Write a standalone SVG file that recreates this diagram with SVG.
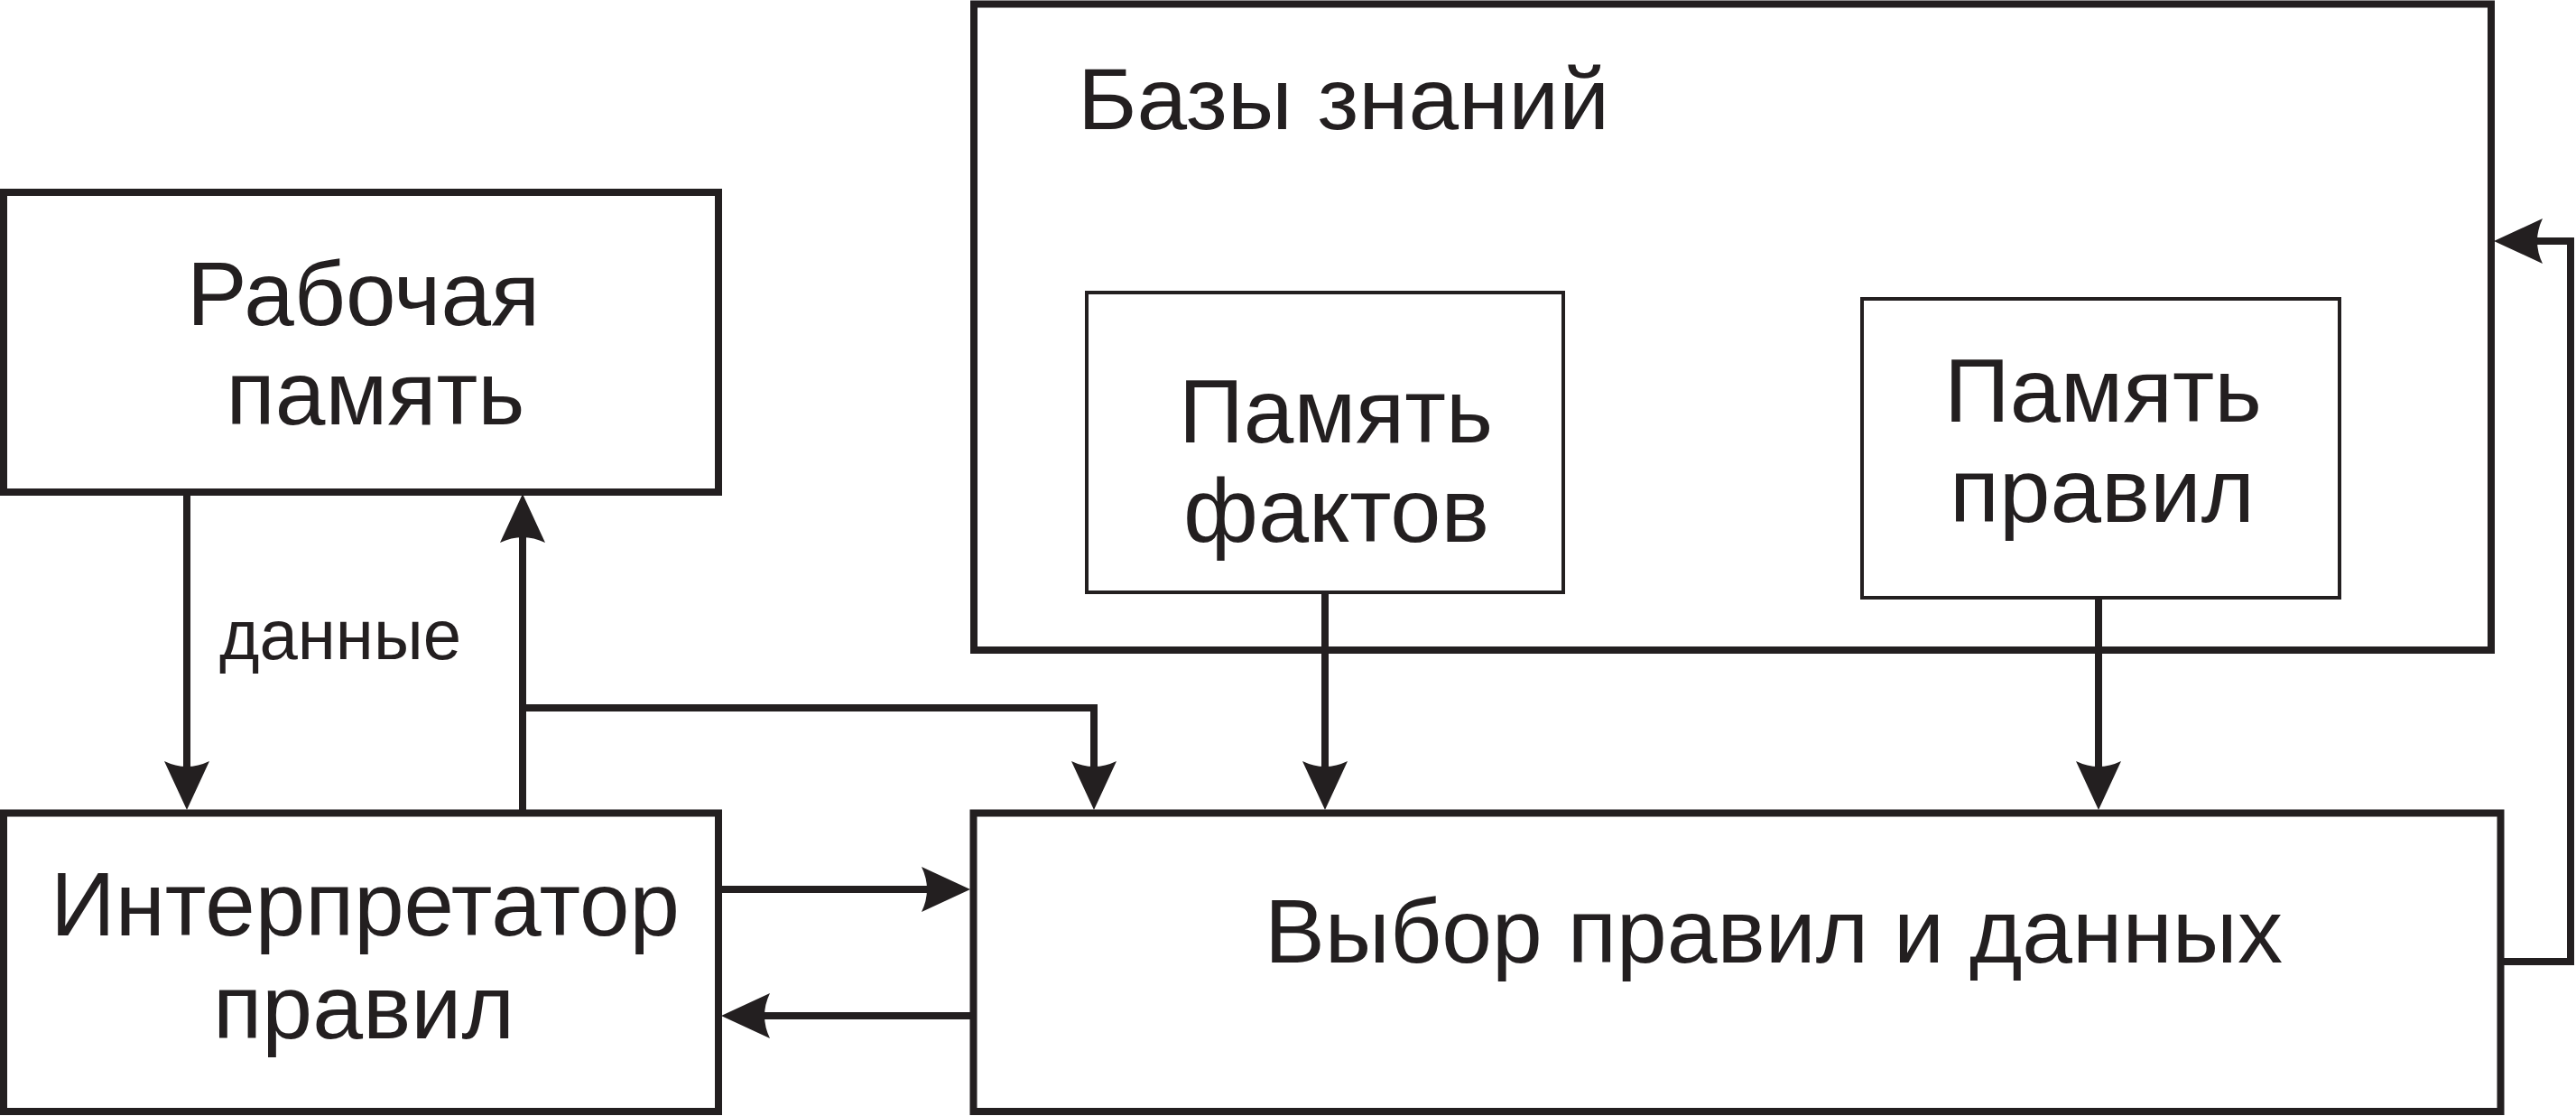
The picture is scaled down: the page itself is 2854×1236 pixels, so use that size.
<svg xmlns="http://www.w3.org/2000/svg" width="2854" height="1236" viewBox="0 0 2854 1236">
<style>
  .box { fill: none; stroke: #231f20; stroke-width: 8; }
  .thin { fill: none; stroke: #231f20; stroke-width: 4; }
  .con { fill: none; stroke: #231f20; stroke-width: 8; stroke-linejoin: miter; marker-end: url(#arr); }
  .plain { fill: none; stroke: #231f20; stroke-width: 8; }
  text { font-family: "Liberation Sans", Arial, sans-serif; fill: #231f20; text-anchor: middle; }
  .t { font-size: 100px; }
  .s { font-size: 78px; }
</style>
<defs>
  <marker id="arr" markerUnits="userSpaceOnUse" viewBox="-56 -27 58 54" markerWidth="58" markerHeight="54" refX="-40" refY="0" orient="auto" overflow="visible">
    <path d="M0,0 L-54,-25 Q-42,0 -54,25 Z" fill="#231f20"/>
  </marker>
</defs>
<rect width="2854" height="1236" fill="#ffffff"/>

<g id="connectors">
  <path class="con" d="M207,548 V857"/>
  <path class="con" d="M579,897 V587"/>
  <path class="con" d="M579,784 H1212 V857"/>
  <path class="con" d="M1468,658 V857"/>
  <path class="con" d="M2325,664 V857"/>
  <path class="con" d="M800,985 H1035"/>
  <path class="con" d="M1075,1125 H839"/>
  <path class="con" d="M2774,1065 H2848 V267 H2803"/>
  <text class="s" x="377" y="730" textLength="268" lengthAdjust="spacingAndGlyphs">данные</text>
</g>

<g id="working-memory">
  <rect class="box" x="4" y="213" width="792" height="332"/>
  <text class="t" x="402.5" y="360" textLength="391" lengthAdjust="spacingAndGlyphs">Рабочая</text>
  <text class="t" x="416" y="470" textLength="331" lengthAdjust="spacingAndGlyphs">память</text>
</g>

<g id="interpreter">
  <rect class="box" x="4" y="900.5" width="792" height="330.5"/>
  <text class="t" x="404.5" y="1036" textLength="697" lengthAdjust="spacingAndGlyphs">Интерпретатор</text>
  <text class="t" x="403" y="1150" textLength="334" lengthAdjust="spacingAndGlyphs">правил</text>
</g>

<g id="knowledge-bases">
  <rect class="box" x="1079" y="4.5" width="1681" height="715.5"/>
  <text class="t" x="1488.5" y="143" font-size="97" textLength="589" lengthAdjust="spacingAndGlyphs" style="font-size:97px">Базы знаний</text>
</g>

<g id="fact-memory">
  <rect class="thin" x="1204" y="324" width="528" height="332"/>
  <text class="t" x="1480" y="490" textLength="348" lengthAdjust="spacingAndGlyphs">Память</text>
  <text class="t" x="1480.5" y="600" textLength="339" lengthAdjust="spacingAndGlyphs">фактов</text>
</g>

<g id="rule-memory">
  <rect class="thin" x="2063" y="331" width="529" height="331"/>
  <text class="t" x="2330" y="467" textLength="352" lengthAdjust="spacingAndGlyphs">Память</text>
  <text class="t" x="2329" y="578" textLength="338" lengthAdjust="spacingAndGlyphs">правил</text>
</g>

<g id="selection">
  <rect class="box" x="1078.5" y="900.5" width="1692" height="330.5"/>
  <text class="t" x="1965" y="1066" textLength="1128" lengthAdjust="spacingAndGlyphs">Выбор правил и данных</text>
</g>
</svg>
